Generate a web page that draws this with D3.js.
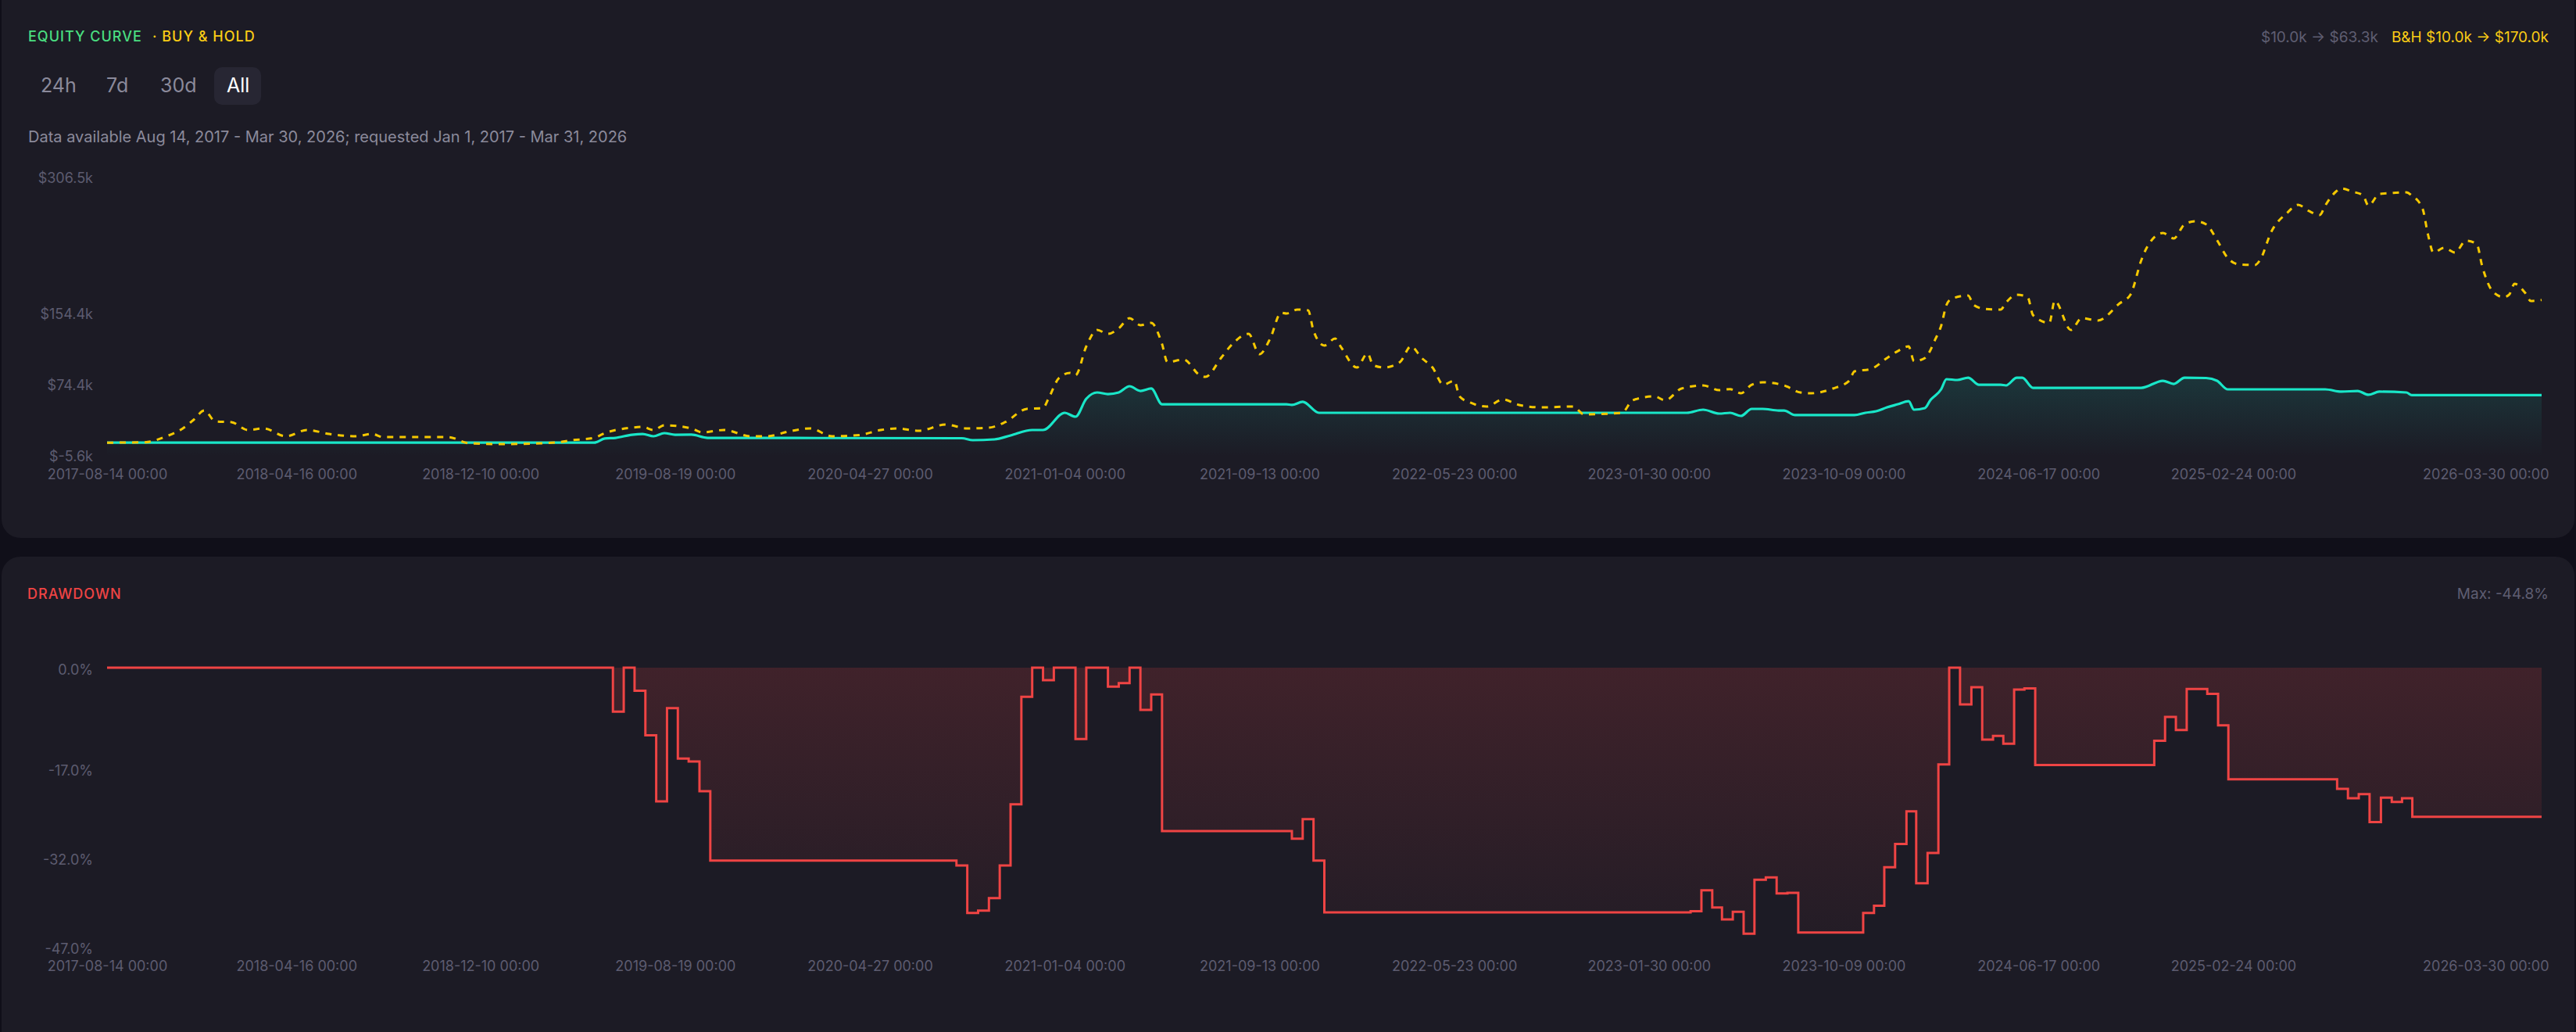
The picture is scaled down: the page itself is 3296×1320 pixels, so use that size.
<!DOCTYPE html>
<html>
<head>
<meta charset="utf-8">
<script src="https://cdn.jsdelivr.net/npm/d3@7"></script>
<style>
  html, body { margin: 0; padding: 0; background: #100f19; }
  svg { display: block; font-family: Inter, "Noto Sans", sans-serif; }
</style>
</head>
<body>
<script>
// weekly offsets from 2017-08-14, values in $k
const bhWeeks = [0,7,11,14,16,18,20,23,26,29,33,37,41,46,49,51,63,67,73,83,86,90,92,97,99,101,103,108,110,114,119,122,126,130,134,139,143,146,150,155,159,163,166,170,173,174,176,178,179,181,183,185,187,189,191,193,195,196,199,202,203,206,208,211,213,215,217,218,220,222,223,225,227,228,231,233,234,236,239,241,243,245,247,249,250,252,255,258,261,265,271,273,280,282,286,288,291,295,298,300,302,304,306,310,313,315,319,322,323,326,329,331,333,334,336,338,339,340,341,344,345,347,350,351,353,355,356,359,360,363,365,368,372,374,376,377,380,382,384,386,388,390,392,394,397,398,400,403,405,407,409,410,412,413,415,417,418,420,422,425,426,428,429,430,432,434,436,438,439,441,443,444,445,447,448,450];
const bhValues = [10,10.5,17.2,26,35.6,46.1,33.9,33,24.2,26,17.2,24.2,19.8,17.2,19.8,16.3,16.3,9.3,8.4,10.2,12.8,15.4,20.7,26.8,27.7,24.2,29.5,26,21.6,24.2,17.2,17.2,22.5,26,17.2,18.5,24.2,25.9,23.3,30.3,26,26.8,33,47.9,48.8,59.3,82.9,88.2,85.6,118,136.4,132,138.2,149.6,141.7,144.3,120.6,100.5,103.1,85.6,83.8,105.7,120.6,132,109.2,126.8,155.7,154.8,159.2,158.3,135.5,118.9,126.8,118,94.3,110.1,97,94.3,100.5,118,104.9,94.3,75,79.4,61.9,54.9,50.5,58.4,52.3,49.6,50.5,41.7,43.5,57.5,61.9,57.5,70.7,74.2,68.9,70,65.4,75,77.7,74.2,66.3,65.4,70.7,79.4,90,92.6,104.9,112.7,118,101.4,104.9,126.8,140.8,164.5,171.5,175,164.5,160.1,159.2,167.1,175.9,173.2,153,144.3,168.9,136.4,149.6,147,166.2,175.9,214.4,228.5,245.1,239,254.8,258.3,254.8,237.2,217,210,209.2,215.3,246,267.9,276.7,269.7,265.3,275.8,291.6,295.1,291.6,287.2,275.8,288.9,289.8,290.7,287.2,272.3,243.4,223.2,228.5,223.2,236.4,232.9,208.3,179.4,173.2,175.9,188.1,177.6,168.9,170];

const eqWeeks = [0,90,92,94,97,99,101,103,105,108,111,158,160,164,167,171,173,177,179,181,183,185,187,189,191,193,195,218,219,221,224,292,295,298,300,302,304,306,309,310,312,323,325,327,329,331,333,334,336,337,339,340,342,344,346,350,351,353,354,356,376,380,382,384,388,390,392,410,413,416,418,420,425,426,450];
const eqValues = [10,10,14.6,15.4,18.9,19.8,17.2,20.7,18.9,19,15.4,15,12.8,13.7,18.1,24.2,24.2,43.5,39.1,59.3,66.3,64.5,66.3,73.3,68,70.7,53.1,53.1,52.3,55.8,43.5,43.5,47,42.6,43.5,40,47.9,47.9,46.1,46.1,40.9,40.9,43.5,45.2,49.6,53.1,56.6,47,48.8,57.5,69.8,81.2,80.3,82.9,75,75,74.2,82.9,82.9,71.5,71.5,79.4,75.9,82.9,82.5,79.4,69.8,69.8,67.2,68,63.7,67.2,66.3,63.3,63.3];

// drawdown steps (week where the step starts, percent)
const ddWeeks = [0,93.5,95.5,97.5,99.5,101.5,103.5,105.5,107.5,109.5,111.5,157,159,161,163,165,167,169,171,173,175,179,181,185,187,189,191,193,195,219,221,223,225,292.7,294.7,296.7,298.5,300.5,302.5,304.5,306.6,308.6,310.6,312.6,324.6,326.6,328.5,330.5,332.6,334.4,336.5,338.5,340.5,342.5,344.6,346.6,348.6,350.5,352.5,354.4,356.4,378.4,380.4,382.4,384.4,388.2,390.2,392.1,412.2,414.2,416.2,418.2,420.3,422.3,424.2,426.1,450];
const ddValues = [0,-7.4,0,-3.9,-11.4,-22.5,-6.8,-15.3,-15.8,-20.8,-32.5,-33.3,-41.3,-40.9,-38.8,-33.3,-23.0,-4.9,0,-2.1,0,-12.0,0,-3.2,-2.6,0,-7.1,-4.5,-27.5,-28.8,-25.5,-32.5,-41.2,-41.0,-37.5,-40.4,-42.4,-41.1,-44.8,-35.7,-35.3,-38.0,-37.9,-44.6,-41.3,-40.1,-33.6,-29.7,-24.2,-36.3,-31.2,-16.3,0,-6.2,-3.3,-12.1,-11.5,-12.8,-3.7,-3.5,-16.4,-12.3,-8.3,-10.5,-3.6,-4.4,-9.7,-18.8,-20.4,-22.0,-21.3,-26.0,-21.9,-22.6,-22.0,-25.1,-25.1];

const dateTicks = ["2017-08-14","2018-04-16","2018-12-10","2019-08-19","2020-04-27","2021-01-04","2021-09-13","2022-05-23","2023-01-30","2023-10-09","2024-06-17","2025-02-24","2026-03-30"];
const equityTicks = [-5.6, 74.4, 154.4, 306.5];
const ddTicks = [0, -17, -32, -47];
const ranges = ["24h", "7d", "30d", "All"];

const W = 3296, H = 1320;
const startMs = Date.UTC(2017, 7, 14);
const toDate = w => new Date(startMs + w * 7 * 864e5);
const parse = d3.utcParse("%Y-%m-%d");
const fmtDate = d3.utcFormat("%Y-%m-%d %H:%M");

const svg = d3.select("body").append("svg").attr("width", W).attr("height", H);
const defs = svg.append("defs");

svg.append("rect").attr("width", W).attr("height", H).attr("fill", "#100f19");
svg.append("rect").attr("x", 2).attr("y", -30).attr("width", 3292).attr("height", 718).attr("rx", 24).attr("fill", "#1c1b25");
svg.append("rect").attr("x", 2).attr("y", 712).attr("width", 3292).attr("height", 640).attr("rx", 24).attr("fill", "#1c1b25");

const x = d3.scaleUtc().domain([toDate(0), toDate(450)]).range([137, 3252]);
const yEq = d3.scaleLinear().domain([-5.6, 306.5]).range([584, 228]);
const yDd = d3.scaleLinear().domain([-47, 0]).range([1211, 854]);

// gradients
const gEq = defs.append("linearGradient").attr("id", "eqFill")
  .attr("gradientUnits", "userSpaceOnUse").attr("x1", 0).attr("x2", 0).attr("y1", 470).attr("y2", 584);
gEq.append("stop").attr("offset", "0%").attr("stop-color", "#19e6c8").attr("stop-opacity", 0.15);
gEq.append("stop").attr("offset", "100%").attr("stop-color", "#19e6c8").attr("stop-opacity", 0);

const gDd = defs.append("linearGradient").attr("id", "ddFill")
  .attr("gradientUnits", "userSpaceOnUse").attr("x1", 0).attr("x2", 0).attr("y1", 854).attr("y2", 1211);
gDd.append("stop").attr("offset", "0%").attr("stop-color", "#ef4444").attr("stop-opacity", 0.17);
gDd.append("stop").attr("offset", "100%").attr("stop-color", "#ef4444").attr("stop-opacity", 0.03);

// headers
const head = svg.append("text").attr("x", 36).attr("y", 53).style("font-size", "18px").style("font-weight", 500).style("letter-spacing", "1px");
head.append("tspan").attr("fill", "#4ade80").text("EQUITY CURVE");
head.append("tspan").attr("fill", "#facc15").attr("x", 195).text("· BUY & HOLD");

svg.append("text").attr("x", 3261).attr("y", 54).attr("text-anchor", "end")
  .attr("fill", "#facc15").style("font-size", "19px").text("B&H $10.0k → $170.0k");
svg.append("text").attr("x", 3043).attr("y", 54).attr("text-anchor", "end")
  .attr("fill", "#5f5e72").style("font-size", "19px").text("$10.0k → $63.3k");

const btnX = [52, 136, 205, 290];
svg.append("rect").attr("x", 274).attr("y", 86).attr("width", 60).attr("height", 48).attr("rx", 10).attr("fill", "#272633");
svg.selectAll("text.btn").data(ranges).join("text").attr("class", "btn")
  .attr("x", (d, i) => btnX[i]).attr("y", 118)
  .attr("fill", d => d === "All" ? "#ffffff" : "#8b8a9b")
  .style("font-size", "25px").text(d => d);

svg.append("text").attr("x", 36).attr("y", 182).attr("fill", "#8b8a9b").style("font-size", "20px")
  .text("Data available Aug 14, 2017 - Mar 30, 2026; requested Jan 1, 2017 - Mar 31, 2026");

svg.append("text").attr("x", 35).attr("y", 766).attr("fill", "#ef4444")
  .style("font-size", "18px").style("font-weight", 500).style("letter-spacing", "1px").text("DRAWDOWN");
svg.append("text").attr("x", 3261).attr("y", 766).attr("text-anchor", "end")
  .attr("fill", "#5f5e72").style("font-size", "19px").text("Max: -44.8%");

// axes
function styleAxis(g) {
  g.select(".domain").remove();
  g.selectAll(".tick line").remove();
  g.selectAll("text").attr("fill", "#5d5c70").style("font-size", "18px").style("font-family", "Inter, sans-serif");
}
function xAxis(yPos) {
  const g = svg.append("g").attr("transform", `translate(0,${yPos})`)
    .call(d3.axisBottom(x).tickValues(dateTicks.map(parse)).tickFormat(fmtDate).tickSize(0).tickPadding(0));
  styleAxis(g);
  g.selectAll(".tick").filter((d, i, n) => i === n.length - 1)
    .select("text").attr("text-anchor", "end").attr("x", 3261 - x(parse("2026-03-30")));
}
xAxis(600);
xAxis(1229);

const gyEq = svg.append("g").attr("transform", "translate(119,0)")
  .call(d3.axisLeft(yEq).tickValues(equityTicks).tickFormat(d => "$" + d.toFixed(1) + "k").tickSize(0).tickPadding(0));
styleAxis(gyEq);

const gyDd = svg.append("g").attr("transform", "translate(119,3)")
  .call(d3.axisLeft(yDd).tickValues(ddTicks).tickFormat(d => d.toFixed(1) + "%").tickSize(0).tickPadding(0));
styleAxis(gyDd);

// equity series
const eqData = eqWeeks.map((w, i) => ({ d: toDate(w), v: eqValues[i] }));
const bhData = bhWeeks.map((w, i) => ({ d: toDate(w), v: bhValues[i] }));

svg.append("path").datum(eqData)
  .attr("fill", "url(#eqFill)")
  .attr("d", d3.area().x(p => x(p.d)).y0(yEq(-5.6)).y1(p => yEq(p.v)).curve(d3.curveMonotoneX));

svg.append("path").datum(eqData)
  .attr("fill", "none").attr("stroke", "#19e6c8").attr("stroke-width", 3.2)
  .attr("d", d3.line().x(p => x(p.d)).y(p => yEq(p.v)).curve(d3.curveMonotoneX));

svg.append("path").datum(bhData)
  .attr("fill", "none").attr("stroke", "#f5c800").attr("stroke-width", 3)
  .attr("stroke-dasharray", "8,8")
  .attr("d", d3.line().x(p => x(p.d)).y(p => yEq(p.v)).curve(d3.curveMonotoneX));

// drawdown
const ddData = ddWeeks.map((w, i) => ({ d: toDate(w), v: ddValues[i] }));
svg.append("path").datum(ddData)
  .attr("fill", "url(#ddFill)")
  .attr("d", d3.area().x(p => x(p.d)).y0(yDd(0)).y1(p => yDd(p.v)).curve(d3.curveStepAfter));
svg.append("path").datum(ddData)
  .attr("fill", "none").attr("stroke", "#ef4444").attr("stroke-width", 3)
  .attr("d", d3.line().x(p => x(p.d)).y(p => yDd(p.v)).curve(d3.curveStepAfter));
</script>
</body>
</html>
